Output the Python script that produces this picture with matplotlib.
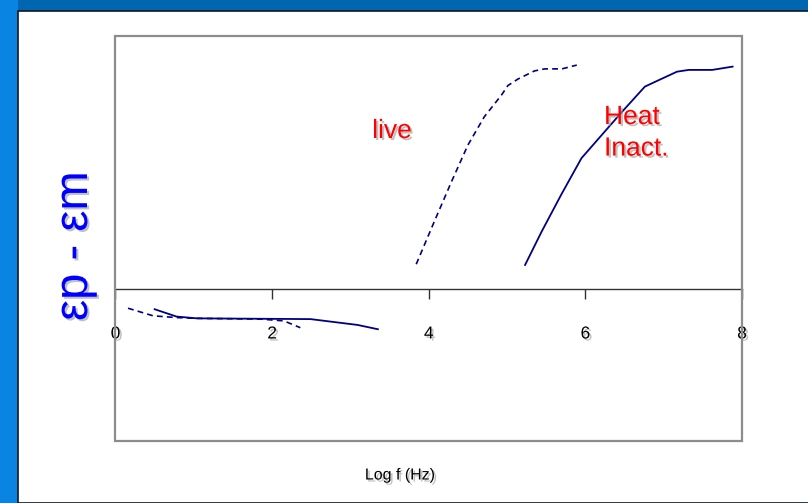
import matplotlib.pyplot as plt
import matplotlib.patheffects as pe
from matplotlib.patches import Rectangle

plt.rcParams['font.family'] = ['Liberation Sans', 'DejaVu Sans']

# live sample (dashed), log f vs (eps_p - eps_m), arbitrary units
live_x_low = [0.16, 0.48, 0.78, 1.04, 1.85, 2.15, 2.36]
live_y_low = [-0.076, -0.106, -0.113, -0.116, -0.119, -0.126, -0.153]
live_x_high = [3.84, 4.07, 4.29, 4.50, 4.71, 4.93, 5.01, 5.14, 5.35, 5.48, 5.70, 5.89]
live_y_high = [0.098, 0.266, 0.424, 0.569, 0.681, 0.767, 0.804, 0.830, 0.862, 0.870, 0.870, 0.885]

# heat inactivated sample (solid)
heat_x_low = [0.50, 0.78, 1.04, 2.49, 3.09, 3.35]
heat_y_low = [-0.080, -0.109, -0.116, -0.119, -0.142, -0.159]
heat_x_high = [5.23, 5.44, 5.69, 5.95, 6.21, 6.47, 6.76, 6.94, 7.17, 7.32, 7.62, 7.88]
heat_y_high = [0.095, 0.226, 0.372, 0.517, 0.609, 0.701, 0.800, 0.826, 0.859, 0.866, 0.866, 0.879]

xticks = [0, 2, 4, 6, 8]

W, H = 808, 503
fig = plt.figure(figsize=(W / 100, H / 100), dpi=100, facecolor='#0066b0')

# slide background
fig.patches.append(Rectangle((0, 0), 18 / W, 1, transform=fig.transFigure,
                             facecolor='#0a84e2', edgecolor='none', zorder=0))
fig.patches.append(Rectangle((18 / W, 0), 1, (H - 10.5) / H, transform=fig.transFigure,
                             facecolor='white', edgecolor='#101820', linewidth=1.2, zorder=0))

ax = fig.add_axes([115.5 / W, (H - 441) / H, (742 - 115.5) / W, (441 - 36) / H])
ax.set_zorder(2)
ax.set_facecolor('white')
ax.set_xlim(0, 8.0)
ax.set_ylim(-152 / 253, 1.0)

curve = '#000080'
ax.plot(live_x_low, live_y_low, color=curve, lw=1.2, dashes=(3.5, 2.5))
ax.plot(live_x_high, live_y_high, color=curve, lw=1.2, dashes=(3.5, 2.5))
ax.plot(heat_x_low, heat_y_low, color=curve, lw=1.3)
ax.plot(heat_x_high, heat_y_high, color=curve, lw=1.3)

for s in ['top', 'left', 'right']:
    ax.spines[s].set_visible(False)
ax.spines['bottom'].set_position(('data', 0))
ax.spines['bottom'].set_color('#333333')
ax.spines['bottom'].set_linewidth(1.0)
ax.add_patch(Rectangle((0, 0), 1, 1, transform=ax.transAxes, fill=False,
                       edgecolor='#8c8c8c', linewidth=1.6, clip_on=False, zorder=5))

shadow = [pe.withSimplePatchShadow(offset=(1.5, -1.5), shadow_rgbFace='#999999', alpha=0.6)]

ax.set_yticks([])
ax.set_xticks(xticks)
ax.set_xticklabels([str(t) for t in xticks])
ax.tick_params(axis='x', direction='out', length=7, width=1, color='#333333',
               pad=20, labelsize=12.5)
for lab in ax.get_xticklabels():
    lab.set_path_effects(shadow)

fig.text(400 / W, 1 - 475 / H, 'Log f (Hz)', ha='center', va='center',
         fontsize=11.5, path_effects=shadow, zorder=3)
fig.text(75 / W, 1 - 246 / H, 'εp - εm', rotation=90, ha='center', va='center',
         fontsize=34, color='#0000ff', path_effects=shadow, zorder=3)
fig.text(392 / W, 1 - 131 / H, 'live', ha='center', va='center',
         fontsize=19, color='#ff0000', path_effects=shadow, zorder=3)
fig.text(604 / W, 1 - 105 / H, 'Heat\nInact.', ha='left', va='top',
         fontsize=19, color='#ff0000', linespacing=1.4, path_effects=shadow, zorder=3)

fig.savefig('out.png', dpi=100, facecolor=fig.get_facecolor())
